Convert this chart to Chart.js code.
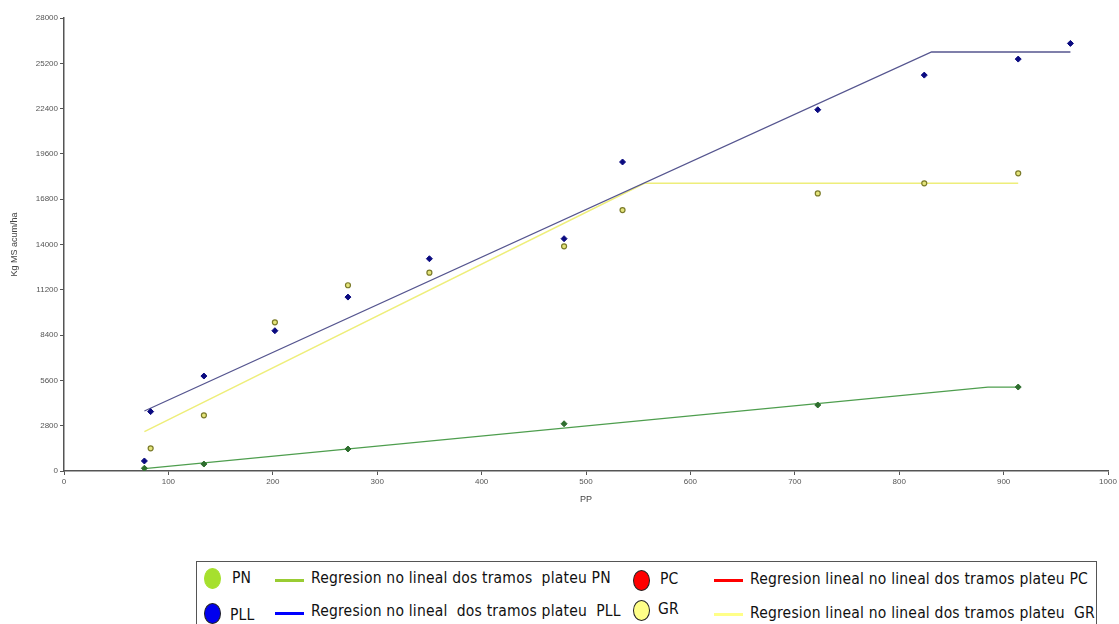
<!DOCTYPE html>
<html><head><meta charset="utf-8">
<script src="https://cdn.jsdelivr.net/npm/chart.js@4/dist/chart.umd.min.js"></script>
<style>
html,body{margin:0;padding:0;background:#fff;width:1119px;height:624px;overflow:hidden;}
#wrap{position:absolute;left:0;top:0;width:1119px;height:505px;}
#legend{position:absolute;left:196px;top:561px;width:901px;height:80px;border:1px solid #555;box-sizing:border-box;font-family:"Liberation Sans Narrow","DejaVu Sans Condensed","Liberation Sans",sans-serif;font-size:15.5px;letter-spacing:0.2px;color:#111;}
.it{position:absolute;white-space:nowrap;}
.dot{position:absolute;width:17px;height:21px;border-radius:50%;box-sizing:border-box;border:1px solid #222;}
.sw{position:absolute;width:29px;height:3px;}
</style></head>
<body>
<div id="wrap"><canvas id="c"></canvas></div>
<div id="legend">
  <div class="dot" style="left:7px;top:6px;background:#a6e02e;border-color:#a6e02e"></div>
  <div class="it" style="left:35px;top:7px">PN</div>
  <div class="sw" style="left:78px;top:17px;background:#99cc33"></div>
  <div class="it" style="left:114px;top:7px">Regresion no lineal dos tramos &nbsp;plateu PN</div>
  <div class="dot" style="left:436px;top:8px;background:#ff0000"></div>
  <div class="it" style="left:463px;top:8px">PC</div>
  <div class="sw" style="left:517px;top:17px;background:#ff0000"></div>
  <div class="it" style="left:553px;top:8px">Regresion lineal no lineal dos tramos plateu PC</div>
  <div class="dot" style="left:7px;top:41px;background:#0000ee"></div>
  <div class="it" style="left:33px;top:44px">PLL</div>
  <div class="sw" style="left:78px;top:50px;background:#0000ff"></div>
  <div class="it" style="left:114px;top:40px">Regresion no lineal &nbsp;dos tramos plateu &nbsp;PLL</div>
  <div class="dot" style="left:436px;top:38px;background:#ffff88"></div>
  <div class="it" style="left:461px;top:38px">GR</div>
  <div class="sw" style="left:517px;top:51px;background:#ffff88"></div>
  <div class="it" style="left:553px;top:42px">Regresion lineal no lineal dos tramos plateu &nbsp;GR</div>
</div>
<script>
// Observed points
const ppPLL = [77, 83, 134, 202, 272, 350, 479, 535, 722, 824, 914, 964];
const kgPLL = [620, 3670, 5870, 8670, 10750, 13120, 14360, 19100, 22330, 24470, 25460, 26430];
const ppGR  = [83, 134, 202, 272, 350, 479, 535, 722, 824, 914];
const kgGR  = [1400, 3440, 9190, 11480, 12260, 13890, 16130, 17160, 17780, 18400];
const ppPN  = [77, 134, 272, 479, 722, 914];
const kgPN  = [170, 430, 1360, 2920, 4080, 5190];
// Two-segment plateau regression lines (start, breakpoint, end)
const fitPPPLL = [77, 831, 964];
const fitKgPLL = [3710, 25900, 25900];
const fitPPGR  = [77, 556, 914];
const fitKgGR  = [2430, 17780, 17780];
const fitPPPN  = [77, 885, 914];
const fitKgPN  = [150, 5190, 5190];
// Axis ticks
const xTicks = [0,100,200,300,400,500,600,700,800,900,1000];
const yTicks = [0,2800,5600,8400,11200,14000,16800,19600,22400,25200,28000];

const pts = (xs, ys) => xs.map((x,i)=>({x:x, y:ys[i]}));

new Chart(document.getElementById('c'), {
  type: 'scatter',
  data: { datasets: [
    {label:'PLL', data: pts(ppPLL,kgPLL), pointStyle:'rectRot', pointRadius:3, backgroundColor:'#0a0a80', borderColor:'#0a0a80', borderWidth:1, order:0},
    {label:'GR', data: pts(ppGR,kgGR), pointStyle:'circle', pointRadius:2.5, backgroundColor:'#e4e47a', borderColor:'#7a7a2a', borderWidth:1.2, order:0},
    {label:'PN', data: pts(ppPN,kgPN), pointStyle:'rectRot', pointRadius:3, backgroundColor:'#2e6e2e', borderColor:'#2e6e2e', borderWidth:1, order:0},
    {label:'Fit PLL', data: pts(fitPPPLL,fitKgPLL), showLine:true, pointRadius:0, borderColor:'#55558f', borderWidth:1.3, order:1},
    {label:'Fit GR', data: pts(fitPPGR,fitKgGR), showLine:true, pointRadius:0, borderColor:'#eeee7a', borderWidth:1.5, order:1},
    {label:'Fit PN', data: pts(fitPPPN,fitKgPN), showLine:true, pointRadius:0, borderColor:'#4e9e4e', borderWidth:1.3, order:1}
  ]},
  options: {
    responsive:true, maintainAspectRatio:false, animation:false,
    layout:{padding:{top:18,right:11,left:0,bottom:0}},
    plugins:{legend:{display:false}, tooltip:{enabled:false}},
    scales:{
      x:{type:'linear', min:0, max:1000,
        afterBuildTicks: a => { a.ticks = xTicks.map(v=>({value:v})); },
        afterFit: a => { a.height = 34; },
        grid:{display:true, drawOnChartArea:false, drawTicks:true, tickLength:4, color:'#555'},
        border:{display:true, color:'#555', width:1.5},
        ticks:{color:'#555', font:{family:'Liberation Sans', size:8}, padding:2, maxRotation:0, callback: v => String(v)},
        title:{display:true, text:'PP', color:'#444', font:{family:'Liberation Sans', size:9}, padding:{top:2,bottom:0}}
      },
      y:{type:'linear', min:0, max:28000,
        afterBuildTicks: a => { a.ticks = yTicks.map(v=>({value:v})); },
        afterFit: a => { a.width = 64; },
        grid:{display:true, drawOnChartArea:false, drawTicks:true, tickLength:4, color:'#555'},
        border:{display:true, color:'#555', width:1.5},
        ticks:{color:'#555', font:{family:'Liberation Sans', size:8}, padding:2, callback: v => String(v)},
        title:{display:true, text:'Kg MS acum/ha', color:'#444', font:{family:'Liberation Sans', size:9}, padding:{top:9,bottom:0}}
      }
    }
  }
});
</script>
</body></html>
